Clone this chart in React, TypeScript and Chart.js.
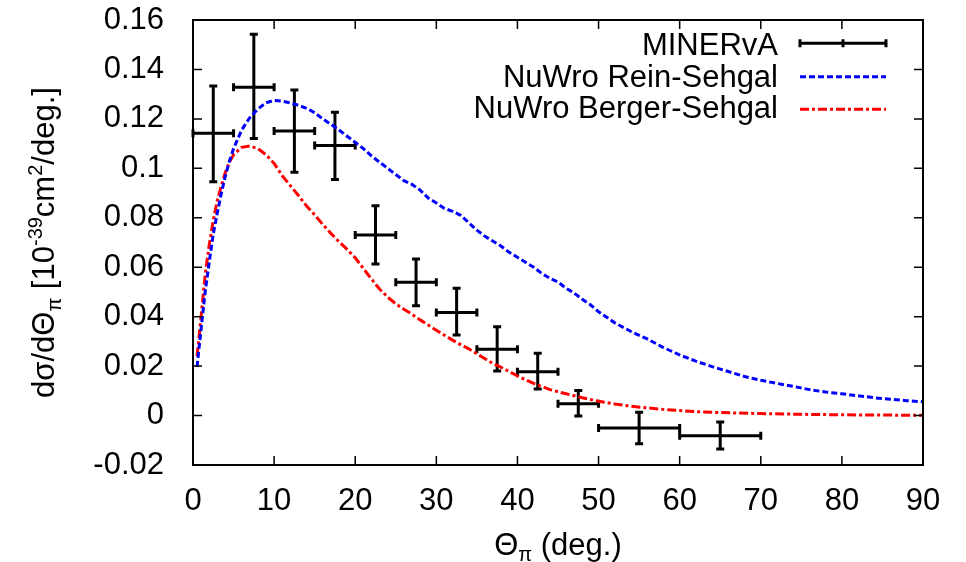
import React, { useEffect, useRef } from "react";
import { Chart, registerables } from "chart.js";
Chart.register(...registerables);

const FONT = "'Liberation Sans', Arial, Helvetica, sans-serif";
const FS = 31;

// MINERvA data (theta bins and cross section)
const thetaCenter = [2.5, 7.5, 12.5, 17.5, 22.5, 27.5, 32.5, 37.5, 42.5, 47.5, 55, 65];
const thetaLow = [0, 5, 10, 15, 20, 25, 30, 35, 40, 45, 50, 60];
const thetaHigh = [5, 10, 15, 20, 25, 30, 35, 40, 45, 50, 60, 70];
const minervaXsec = [0.1142, 0.1328, 0.1151, 0.1092, 0.073, 0.0539, 0.0417, 0.0268, 0.0177, 0.0048, -0.005, -0.0082];
const minervaLow = [0.0946, 0.1121, 0.0984, 0.0955, 0.0613, 0.0444, 0.0326, 0.018, 0.0107, -0.0002, -0.0114, -0.0135];
const minervaHigh = [0.1333, 0.1542, 0.1317, 0.1227, 0.0849, 0.0633, 0.0515, 0.0359, 0.0252, 0.0101, 0.0013, -0.0026];

// NuWro Rein-Sehgal
const reinTheta = [0.5, 1, 1.5, 2, 2.5, 3, 3.5, 4, 4.5, 5, 6, 7, 8, 9, 10, 11, 12, 13, 14, 15, 16, 17, 18, 19, 20, 21, 22, 23, 24, 25, 26, 27, 28, 29, 30, 31, 32, 33, 34, 35, 36, 37, 38, 39, 40, 41, 42, 43, 44, 45, 46, 47, 48, 49, 50, 52, 54, 56, 58, 60, 62, 64, 66, 68, 70, 72, 74, 76, 78, 80, 82, 84, 86, 88, 90];
const reinXsec = [0.0197, 0.035, 0.05, 0.062, 0.0735, 0.082, 0.09, 0.097, 0.103, 0.108, 0.1155, 0.1205, 0.124, 0.1265, 0.1275, 0.1272, 0.1265, 0.1255, 0.1243, 0.1225, 0.12, 0.1178, 0.1155, 0.113, 0.1105, 0.108, 0.105, 0.1025, 0.1, 0.0975, 0.095, 0.0935, 0.0912, 0.088, 0.086, 0.0838, 0.0826, 0.081, 0.078, 0.075, 0.0725, 0.0705, 0.0685, 0.066, 0.064, 0.062, 0.06, 0.0575, 0.0555, 0.054, 0.0515, 0.0495, 0.047, 0.0448, 0.042, 0.0375, 0.034, 0.031, 0.0275, 0.0245, 0.022, 0.0198, 0.0178, 0.0158, 0.0143, 0.013, 0.0118, 0.0105, 0.0095, 0.0088, 0.008, 0.0072, 0.0066, 0.006, 0.0056];

// NuWro Berger-Sehgal
const bergerTheta = [0.5, 1, 1.5, 2, 2.5, 3, 3.5, 4, 4.5, 5, 6, 7, 8, 9, 10, 11, 12, 13, 14, 15, 16, 17, 18, 19, 20, 21, 22, 23, 24, 25, 26, 27, 28, 29, 30, 31, 32, 33, 34, 35, 36, 37, 38, 39, 40, 42, 44, 46, 48, 50, 52, 54, 56, 58, 60, 62, 65, 70, 75, 80, 85, 90];
const bergerXsec = [0.024, 0.04, 0.057, 0.069, 0.079, 0.087, 0.093, 0.0985, 0.1025, 0.1055, 0.1085, 0.109, 0.108, 0.1055, 0.102, 0.097, 0.093, 0.089, 0.0848, 0.0812, 0.0773, 0.0737, 0.0703, 0.0672, 0.0638, 0.0595, 0.0552, 0.0512, 0.0479, 0.0452, 0.043, 0.041, 0.0387, 0.0366, 0.0345, 0.0325, 0.0305, 0.0287, 0.027, 0.025, 0.023, 0.021, 0.0195, 0.0178, 0.016, 0.013, 0.0105, 0.0088, 0.0072, 0.0058, 0.0047, 0.0038, 0.0031, 0.0025, 0.002, 0.0016, 0.0012, 0.0008, 0.0005, 0.0003, 0.0002, 0.0001];

const legendLabels = ["MINERvA", "NuWro Rein-Sehgal", "NuWro Berger-Sehgal"];
const xTitle = [
  { t: "Θ", s: FS, dy: 0 },
  { t: "π", s: 20, dy: 6 },
  { t: " (deg.)", s: FS, dy: 0 },
];
const yTitle = [
  { t: "dσ/dΘ", s: FS, dy: 0 },
  { t: "π", s: 20, dy: 7 },
  { t: " [10", s: FS, dy: 0 },
  { t: "-39", s: 20, dy: -12 },
  { t: "cm", s: FS, dy: 0 },
  { t: "2", s: 20, dy: -12 },
  { t: "/deg.]", s: FS, dy: 0 },
];

const BLUE = "#0000ff";
const RED = "#ff0000";
const BLUE_DASH = [6, 3];
const RED_DASH = [9, 3, 3, 3];

type Seg = { t: string; s: number; dy: number };
function drawRich(ctx: CanvasRenderingContext2D, segs: Seg[], cx: number, cy: number) {
  let total = 0;
  for (const sg of segs) {
    ctx.font = `${sg.s}px ${FONT}`;
    total += ctx.measureText(sg.t).width;
  }
  let x = cx - total / 2;
  ctx.textAlign = "left";
  ctx.textBaseline = "alphabetic";
  for (const sg of segs) {
    ctx.font = `${sg.s}px ${FONT}`;
    ctx.fillText(sg.t, x, cy + sg.dy);
    x += ctx.measureText(sg.t).width;
  }
}

const customPlugin = {
  id: "custom",
  beforeDatasetsDraw(chart: any) {
    const { ctx } = chart;
    const xs = chart.scales.x;
    const ys = chart.scales.y;
    ctx.save();
    ctx.strokeStyle = "#000";
    ctx.lineWidth = 3;
    const cap = 4;
    for (let i = 0; i < thetaCenter.length; i++) {
      const xc = xs.getPixelForValue(thetaCenter[i]);
      const xl = xs.getPixelForValue(thetaLow[i]);
      const xh = xs.getPixelForValue(thetaHigh[i]);
      const yc = ys.getPixelForValue(minervaXsec[i]);
      const yl = ys.getPixelForValue(minervaLow[i]);
      const yh = ys.getPixelForValue(minervaHigh[i]);
      ctx.beginPath();
      ctx.moveTo(xl, yc); ctx.lineTo(xh, yc);
      ctx.moveTo(xl, yc - cap); ctx.lineTo(xl, yc + cap);
      ctx.moveTo(xh, yc - cap); ctx.lineTo(xh, yc + cap);
      ctx.moveTo(xc, yl); ctx.lineTo(xc, yh);
      ctx.moveTo(xc - cap, yl); ctx.lineTo(xc + cap, yl);
      ctx.moveTo(xc - cap, yh); ctx.lineTo(xc + cap, yh);
      ctx.stroke();
    }
    ctx.restore();
  },
  afterDraw(chart: any) {
    const { ctx, chartArea: a } = chart;
    const xs = chart.scales.x;
    const ys = chart.scales.y;
    ctx.save();
    // frame
    ctx.strokeStyle = "#000";
    ctx.lineWidth = 2;
    ctx.strokeRect(a.left, a.top, a.right - a.left, a.bottom - a.top);
    const tl = 9;
    ctx.lineWidth = 1.5;
    ctx.beginPath();
    for (const t of xs.ticks) {
      if (t.value <= xs.min || t.value >= xs.max) continue;
      const px = xs.getPixelForValue(t.value);
      ctx.moveTo(px, a.bottom); ctx.lineTo(px, a.bottom - tl);
      ctx.moveTo(px, a.top); ctx.lineTo(px, a.top + tl);
    }
    for (const t of ys.ticks) {
      if (t.value <= ys.min + 1e-9 || t.value >= ys.max - 1e-9) continue;
      const py = ys.getPixelForValue(t.value);
      ctx.moveTo(a.left, py); ctx.lineTo(a.left + tl, py);
      ctx.moveTo(a.right, py); ctx.lineTo(a.right - tl, py);
    }
    ctx.stroke();

    // legend
    const textBase = [55, 86.5, 118];
    const lineY = [43.3, 76.7, 109.3];
    const textRight = 778;
    const s0 = 800, s1 = 886;
    ctx.fillStyle = "#000";
    ctx.font = `${FS}px ${FONT}`;
    ctx.textAlign = "right";
    ctx.textBaseline = "alphabetic";
    legendLabels.forEach((l, i) => ctx.fillText(l, textRight, textBase[i]));
    // MINERvA sample
    ctx.lineWidth = 3;
    ctx.strokeStyle = "#000";
    ctx.setLineDash([]);
    ctx.beginPath();
    ctx.moveTo(s0, lineY[0]); ctx.lineTo(s1, lineY[0]);
    ctx.moveTo(s0, lineY[0] - 4); ctx.lineTo(s0, lineY[0] + 4);
    ctx.moveTo(s1, lineY[0] - 4); ctx.lineTo(s1, lineY[0] + 4);
    ctx.moveTo((s0 + s1) / 2, lineY[0] - 4); ctx.lineTo((s0 + s1) / 2, lineY[0] + 4);
    ctx.stroke();
    ctx.strokeStyle = BLUE;
    ctx.setLineDash(BLUE_DASH);
    ctx.beginPath();
    ctx.moveTo(s0, lineY[1]); ctx.lineTo(s1, lineY[1]);
    ctx.stroke();
    ctx.strokeStyle = RED;
    ctx.setLineDash(RED_DASH);
    ctx.beginPath();
    ctx.moveTo(s0, lineY[2]); ctx.lineTo(s1, lineY[2]);
    ctx.stroke();
    ctx.setLineDash([]);

    // axis titles
    ctx.fillStyle = "#000";
    drawRich(ctx, xTitle, (a.left + a.right) / 2, 555);
    ctx.save();
    ctx.translate(54, (a.top + a.bottom) / 2);
    ctx.rotate(-Math.PI / 2);
    drawRich(ctx, yTitle, 0, 0);
    ctx.restore();
    ctx.restore();
  },
};

export default function App() {
  const ref = useRef<HTMLCanvasElement | null>(null);
  useEffect(() => {
    document.body.style.margin = "0";
    if (!ref.current) return;
    const chart = new Chart(ref.current, {
      type: "scatter",
      data: {
        datasets: [
          {
            label: legendLabels[0],
            data: thetaCenter.map((x, i) => ({ x, y: minervaXsec[i] })),
            pointRadius: 0,
            showLine: false,
          },
          {
            label: legendLabels[1],
            data: reinTheta.map((x, i) => ({ x, y: reinXsec[i] })),
            showLine: true,
            borderColor: BLUE,
            borderWidth: 3,
            borderDash: BLUE_DASH,
            pointRadius: 0,
            tension: 0,
          },
          {
            label: legendLabels[2],
            data: bergerTheta.map((x, i) => ({ x, y: bergerXsec[i] })),
            showLine: true,
            borderColor: RED,
            borderWidth: 3,
            borderDash: RED_DASH,
            pointRadius: 0,
            tension: 0,
          },
        ],
      },
      options: {
        animation: false,
        responsive: false,
        devicePixelRatio: 1,
        layout: { padding: { top: 20, right: 43, left: 0, bottom: 0 } },
        plugins: { legend: { display: false }, tooltip: { enabled: false } },
        scales: {
          x: {
            type: "linear",
            min: 0,
            max: 90,
            grid: { display: false },
            border: { display: false },
            ticks: {
              stepSize: 10,
              color: "#000",
              font: { family: FONT, size: FS },
              padding: 10,
              maxRotation: 0,
              callback: (v: any) => String(v),
            },
            afterFit: (s: any) => {
              s.height = 97;
              s.paddingLeft = 0;
              s.paddingRight = 0;
            },
          },
          y: {
            type: "linear",
            min: -0.02,
            max: 0.16,
            grid: { display: false },
            border: { display: false },
            ticks: {
              stepSize: 0.02,
              color: "#000",
              font: { family: FONT, size: FS },
              padding: 21,
              callback: (v: any) => String(parseFloat(Number(v).toFixed(2))),
            },
            afterFit: (s: any) => {
              s.width = 193;
              s.paddingTop = 0;
              s.paddingBottom = 0;
            },
          },
        },
      },
      plugins: [customPlugin],
    });
    return () => chart.destroy();
  }, []);
  return (
    <div style={{ width: 966, height: 562 }}>
      <canvas ref={ref} width={966} height={562} style={{ display: "block" }} />
    </div>
  );
}
